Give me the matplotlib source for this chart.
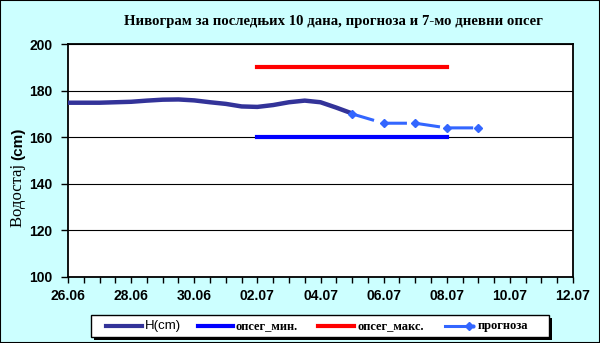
import pandas as pd
import matplotlib
matplotlib.use("Agg")
import matplotlib.pyplot as plt
import matplotlib.dates as mdates
from matplotlib.lines import Line2D
from matplotlib.patches import Rectangle

# water level, every 12 hours
h_dates = pd.date_range("2011-06-26", periods=19, freq="12h")
h_values = [174.8, 174.8, 174.8, 175.0, 175.2, 175.7, 176.1, 176.2, 175.8, 175.0,
            174.3, 173.2, 173.0, 173.8, 175.0, 175.7, 175.0, 172.7, 170.2]

# forecast
fc_dates = pd.date_range("2011-07-05", periods=5, freq="D")
fc_values = [170, 166, 166, 164, 164]

# 7-day range
band_dates = [pd.Timestamp("2011-07-02"), pd.Timestamp("2011-07-08")]
band_min = [160, 160]
band_max = [190, 190]

title = "Нивограм за последњих 10 дана, прогноза и 7-мо дневни опсег"
x_start, x_end = pd.Timestamp("2011-06-26"), pd.Timestamp("2011-07-12")

bg = "#ccffff"
c_h = "#333399"
c_min = "#0000ff"
c_max = "#ff0000"
c_fc = "#3366ff"

fig = plt.figure(figsize=(6, 3.43), dpi=100, facecolor=bg)
fig.add_artist(Rectangle((0, 0), 1, 1, transform=fig.transFigure, fill=False,
                         edgecolor="black", lw=1.5))

ax = fig.add_axes([68 / 600, 66 / 343, 505 / 600, 233 / 343])
ax.set_facecolor("white")

ax.plot(h_dates, h_values, color=c_h, lw=3.2, solid_capstyle="butt", zorder=4)
ax.plot(band_dates, band_min, color=c_min, lw=3, zorder=3)
ax.plot(band_dates, band_max, color=c_max, lw=3, zorder=3)
ax.plot(fc_dates, fc_values, color=c_fc, lw=2.2, dashes=(7.5, 3.4),
        marker="D", markersize=4.5, zorder=5)

ax.set_xlim(x_start, x_end)
ax.set_ylim(100, 200)
ax.set_yticks(range(100, 201, 20))
ax.xaxis.set_major_locator(mdates.DayLocator(interval=2))
ax.xaxis.set_minor_locator(mdates.HourLocator(byhour=[0, 12]))
ax.xaxis.set_major_formatter(mdates.DateFormatter("%d.%m"))
ax.grid(axis="y", color="black", lw=0.8)
ax.set_axisbelow(True)

for s in ax.spines.values():
    s.set_linewidth(1.3)
ax.tick_params(axis="y", length=5, width=1, pad=6)
ax.tick_params(axis="x", which="both", length=4, width=1, pad=5)
for lab in ax.get_xticklabels() + ax.get_yticklabels():
    lab.set_fontfamily("Liberation Sans")
    lab.set_fontweight("bold")
    lab.set_fontsize(10)

fig.text(333 / 600, 1 - 21 / 343, title, ha="center", va="center",
         family="Liberation Serif", weight="bold", fontsize=10.6)

# y label: serif word, sans unit
fig.text(18 / 600, 1 - 160 / 343, "Водостај ", rotation=90, rotation_mode="anchor",
         ha="right", va="center", family="Liberation Serif", fontsize=12)
fig.text(18 / 600, 1 - 160 / 343, "(cm)", rotation=90, rotation_mode="anchor",
         ha="left", va="center", family="Liberation Sans", weight="bold", fontsize=11)

# legend box with shadow
W, H = 600, 343
bx0, bx1, by0, by1 = 91, 549, 315, 337
fig.add_artist(Rectangle((bx0 / W + 3 / W, 1 - (by1 + 3) / H), (bx1 - bx0) / W, (by1 - by0) / H,
                         transform=fig.transFigure, facecolor="black", edgecolor="none"))
fig.add_artist(Rectangle((bx0 / W, 1 - by1 / H), (bx1 - bx0) / W, (by1 - by0) / H,
                         transform=fig.transFigure, facecolor="white", edgecolor="black", lw=1))
ly = 1 - 326 / H
entries = [
    (106, 142, c_h, "H(cm)", "Liberation Sans", "normal", None),
    (198, 233, c_min, "опсег_мин.", "Liberation Serif", "bold", None),
    (318, 354, c_max, "опсег_макс.", "Liberation Serif", "bold", None),
    (445, 469, c_fc, "прогноза", "Liberation Serif", "bold", "D"),
]
for x0, x1, col, txt, fam, wt, mk in entries:
    fig.add_artist(Line2D([x0 / W, x1 / W], [ly, ly], transform=fig.transFigure,
                          color=col, lw=3 if mk is None else 2.2))
    if mk:
        fig.add_artist(Line2D([x1 / W], [ly], transform=fig.transFigure, color=col,
                              marker=mk, markersize=4.5))
        fig.add_artist(Line2D([473 / W], [ly], transform=fig.transFigure, color=col,
                              marker="o", markersize=2))
        x1 += 6
    fig.text((x1 + 3) / W, ly, txt, ha="left", va="center", family=fam,
             weight=wt, fontsize=9.5 if fam == "Liberation Sans" else 9)

fig.savefig("out.png", dpi=100, facecolor=bg)
